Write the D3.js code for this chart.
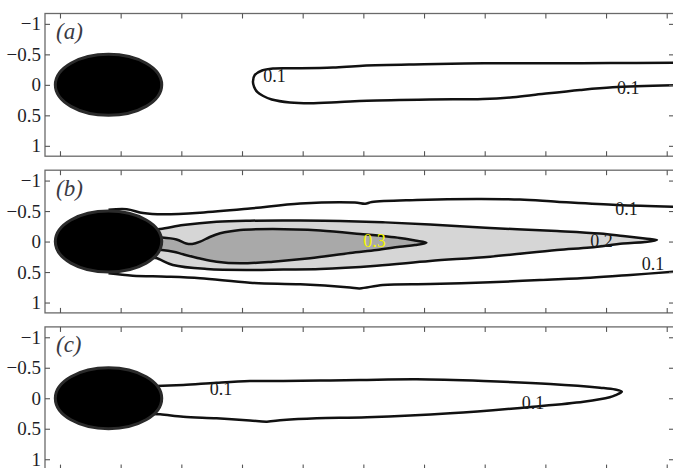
<!DOCTYPE html>
<html><head><meta charset="utf-8">
<script src="https://cdn.jsdelivr.net/npm/d3@7"></script>
<style>
body{margin:0;background:#fff}svg{display:block}
.serif{font-family:"Liberation Serif","Times New Roman",Times,serif}
</style>
</head><body>
<svg id="chart" width="673" height="468"></svg>
<script>
// ---------- data ----------
const panelLabels = ["(a)", "(b)", "(c)"];
const xTickValues = [0, 1, 2, 3, 4, 5, 6, 7, 8, 9, 10];
const yTickValues = [-1, -0.5, 0, 0.5, 1];
const yTickLabels = ["\u22121", "\u22120.5", "0", "0.5", "1"];
const xDomain = [-0.247, 10.12];
const yDomain = [-1.17, 1.17];
const bodyShape = { cx: 0.8, cy: 0, rx: 0.877, ry: 0.5 };

// panel (a): contour 0.1
const a_c01 = [[10.12,-0.363],[9.07,-0.358],[7.98,-0.353],[6.99,-0.353],[6.0,-0.337],[4.99,-0.314],[4.5,-0.284],[3.96,-0.271],[3.51,-0.268],[3.33,-0.235],[3.21,-0.161],[3.18,-0.052],[3.2,0.035],[3.25,0.117],[3.35,0.183],[3.49,0.24],[3.79,0.289],[4.12,0.302],[4.62,0.281],[5.06,0.26],[6.1,0.24],[6.97,0.232],[7.42,0.207],[7.8,0.166],[8.57,0.084],[9.11,0.04],[10.12,0.007]];
const a_labels = [{t:"0.1", x:3.35, y:-0.052}, {t:"0.1", x:9.18, y:0.15}];

// panel (b)
const b_c01_top = [[0.8,-0.52],[1.1,-0.529],[1.37,-0.468],[1.7,-0.447],[2.31,-0.473],[3.13,-0.542],[3.96,-0.624],[4.86,-0.64],[5.03,-0.62],[5.14,-0.648],[5.88,-0.681],[6.87,-0.698],[7.58,-0.689],[8.19,-0.653],[9.18,-0.599],[10.12,-0.571]];
const b_c01_bot = [[0.8,0.52],[1.2,0.56],[1.76,0.576],[2.31,0.602],[3.13,0.675],[3.96,0.701],[4.78,0.753],[4.94,0.768],[5.32,0.712],[6.1,0.696],[7.09,0.668],[7.91,0.63],[8.74,0.593],[9.4,0.548],[10.12,0.494]];
const b_c02 = [[1.45,-0.206],[1.65,-0.206],[2.03,-0.271],[2.58,-0.325],[3.13,-0.342],[3.96,-0.345],[4.62,-0.337],[5.32,-0.316],[6.1,-0.28],[7.09,-0.222],[8.19,-0.173],[8.9,-0.132],[9.28,-0.091],[9.64,-0.05],[9.84,-0.025],[9.64,0.007],[9.28,0.032],[8.74,0.098],[8.19,0.139],[7.09,0.248],[6.1,0.319],[5.22,0.396],[4.29,0.45],[3.68,0.458],[3.13,0.466],[2.42,0.45],[1.86,0.384],[1.58,0.27],[1.45,0.27]];
const b_c03 = [[1.48,-0.07],[1.68,-0.066],[1.92,-0.034],[2.08,0.032],[2.18,0.04],[2.31,0.002],[2.47,-0.075],[2.64,-0.135],[2.97,-0.189],[3.51,-0.206],[4.29,-0.181],[4.95,-0.124],[5.6,-0.058],[5.85,-0.017],[6.04,0.019],[5.85,0.057],[5.6,0.084],[5.22,0.139],[4.78,0.188],[4.12,0.275],[3.51,0.33],[2.97,0.357],[2.58,0.33],[2.31,0.278],[2.03,0.209],[1.87,0.166],[1.68,0.139],[1.48,0.13]];
const b_labels = [{t:"0.1", x:9.15, y:-0.435}, {t:"0.2", x:8.74, y:0.084}, {t:"0.1", x:9.59, y:0.466}, {t:"0.3", x:5.0, y:0.084, yellow:true}];

// panel (c): contour 0.1
const c_c01 = [[1.45,-0.201],[1.59,-0.201],[2.03,-0.217],[2.58,-0.255],[3.13,-0.283],[3.68,-0.283],[4.29,-0.291],[4.94,-0.299],[5.88,-0.311],[6.98,-0.283],[8.08,-0.234],[8.9,-0.173],[9.15,-0.143],[9.26,-0.107],[9.16,-0.053],[9.06,-0.016],[8.63,0.057],[7.8,0.139],[6.43,0.247],[5.06,0.312],[4.23,0.329],[3.68,0.357],[3.41,0.384],[3.13,0.365],[2.58,0.329],[2.03,0.302],[1.65,0.263],[1.45,0.258]];
const c_labels = [{t:"0.1", x:2.47, y:-0.053}, {t:"0.1", x:7.61, y:0.181}];

// ---------- drawing ----------
const svg = d3.select("#chart");
const left = 45, right = 674, panelH = 142.7, panelTop0 = 13.5, panelStep = 156.7;
const x = d3.scaleLinear().domain(xDomain).range([left, right]);

const panels = [
  { fills: [], lines: [a_c01], closedLines: [], labels: a_labels },
  { fills: [{d: b_c02, c: "#d6d6d6"}, {d: b_c03, c: "#a9a9a9"}], lines: [b_c01_top, b_c01_bot], closedLines: [b_c02, b_c03], labels: b_labels },
  { fills: [], lines: [c_c01], closedLines: [], labels: c_labels }
];

svg.append("defs").selectAll("clipPath").data(panels).join("clipPath")
  .attr("id", (d, i) => "clip" + i)
  .append("rect").attr("x", left).attr("width", right - left)
  .attr("y", (d, i) => panelTop0 + i * panelStep).attr("height", panelH);

panels.forEach((p, i) => {
  const top = panelTop0 + i * panelStep;
  const y = d3.scaleLinear().domain(yDomain).range([top, top + panelH]);
  const g = svg.append("g");
  const plot = g.append("g").attr("clip-path", `url(#clip${i})`);
  const line = d3.line().x(d => x(d[0])).y(d => y(d[1])).curve(d3.curveCatmullRom.alpha(0.5));
  const closed = d3.line().x(d => x(d[0])).y(d => y(d[1])).curve(d3.curveCatmullRomClosed.alpha(0.5));

  p.fills.forEach(f => plot.append("path").attr("d", closed(f.d)).attr("fill", f.c).attr("stroke", "none"));
  p.closedLines.forEach(l => plot.append("path").attr("d", line(l)).attr("fill", "none").attr("stroke", "#111").attr("stroke-width", 2.5));
  p.lines.forEach(l => plot.append("path").attr("d", line(l)).attr("fill", "none").attr("stroke", "#111").attr("stroke-width", 2.5).attr("stroke-linejoin", "round"));

  // body
  plot.append("ellipse")
    .attr("cx", x(bodyShape.cx)).attr("cy", y(bodyShape.cy))
    .attr("rx", x(bodyShape.cx + bodyShape.rx) - x(bodyShape.cx))
    .attr("ry", y(bodyShape.cy + bodyShape.ry) - y(bodyShape.cy))
    .attr("fill", "#000").attr("stroke", "#2a2a2a").attr("stroke-width", 3);

  // contour labels
  plot.selectAll("text.cl").data(p.labels).join("text").attr("class", "cl serif")
    .attr("x", d => x(d.x)).attr("y", d => y(d.y))
    .style("font-size", "18px")
    .attr("fill", d => d.yellow ? "#f5f500" : "#1a1a1a")
    .text(d => d.t);

  // frame
  g.append("rect").attr("x", left).attr("y", top).attr("width", right - left).attr("height", panelH)
    .attr("fill", "none").attr("stroke", "#6a6a6a").attr("stroke-width", 1.3);

  // axes
  const styleAxis = sel => {
    sel.select(".domain").remove();
    sel.selectAll(".tick line").attr("stroke", "#555").attr("stroke-width", 1.1);
  };
  g.append("g").attr("transform", `translate(0,${top})`)
    .call(d3.axisTop(x).tickValues(xTickValues).tickSize(-5).tickSizeOuter(0).tickFormat(""))
    .call(styleAxis);
  g.append("g").attr("transform", `translate(0,${top + panelH})`)
    .call(d3.axisBottom(x).tickValues(xTickValues).tickSize(-5).tickSizeOuter(0).tickFormat(""))
    .call(styleAxis);
  g.append("g").attr("transform", `translate(${right},0)`)
    .call(d3.axisRight(y).tickValues(yTickValues).tickSize(-5).tickSizeOuter(0).tickFormat(""))
    .call(styleAxis);
  const ya = g.append("g").attr("transform", `translate(${left},0)`)
    .call(d3.axisLeft(y).tickValues(yTickValues).tickSize(-5).tickSizeOuter(0).tickPadding(4)
      .tickFormat((d, k) => yTickLabels[k]))
    .call(styleAxis);
  ya.attr("font-family", null).attr("font-size", null);
  ya.selectAll(".tick text").attr("class", "serif")
    .style("font-size", "19px").attr("fill", "#1f1f28");

  // panel label
  g.append("text").attr("class", "serif").attr("x", left + 11).attr("y", top + 25.5)
    .attr("font-style", "italic").style("font-size", "23px").attr("fill", "#3a3a44")
    .text(panelLabels[i]);
});
</script>
</body></html>
